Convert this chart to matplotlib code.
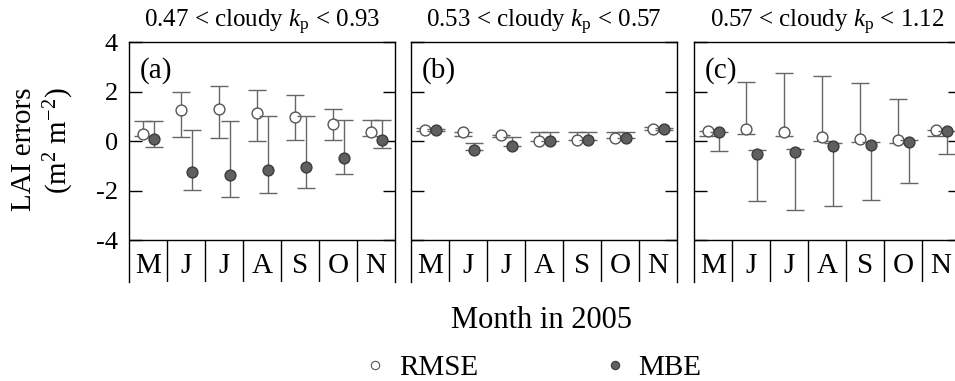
import numpy as np
import matplotlib
matplotlib.use("Agg")
import matplotlib.pyplot as plt
from matplotlib.lines import Line2D

plt.rcParams['font.family'] = ['Liberation Serif', 'DejaVu Serif']
plt.rcParams['mathtext.fontset'] = 'custom'
plt.rcParams['mathtext.rm'] = 'Liberation Serif'
plt.rcParams['mathtext.it'] = 'Liberation Serif:italic'
plt.rcParams['mathtext.bf'] = 'Liberation Serif:bold'

# ---------------- data ----------------
months = ['M', 'J', 'J', 'A', 'S', 'O', 'N']
titles = [r'0.47 < cloudy $k_{\mathrm{p}}$ < 0.93',
          r'0.53 < cloudy $k_{\mathrm{p}}$ < 0.57',
          r'0.57 < cloudy $k_{\mathrm{p}}$ < 1.12']
panel_labels = ['(a)', '(b)', '(c)']

# panel (a)
rmse_a = [0.31, 1.26, 1.32, 1.15, 1.00, 0.70, 0.38]
rmse_a_lo = [0.20, 0.18, 0.12, 0.02, 0.07, 0.06, 0.20]
rmse_a_hi = [0.81, 2.00, 2.22, 2.06, 1.86, 1.31, 0.88]
mbe_a = [0.10, -1.25, -1.34, -1.15, -1.02, -0.66, 0.07]
mbe_a_lo = [-0.23, -1.98, -2.24, -2.07, -1.87, -1.30, -0.27]
mbe_a_hi = [0.81, 0.47, 0.83, 1.04, 1.01, 0.85, 0.88]

# panel (b)
rmse_b = [0.47, 0.38, 0.24, 0.03, 0.06, 0.14, 0.51]
rmse_b_lo = [0.42, 0.20, 0.18, 0.03, 0.06, 0.14, 0.46]
rmse_b_hi = [0.52, 0.38, 0.24, 0.36, 0.38, 0.38, 0.56]
mbe_b = [0.45, -0.34, -0.17, 0.03, 0.06, 0.14, 0.49]
mbe_b_lo = [0.40, -0.34, -0.17, 0.03, 0.06, 0.14, 0.44]
mbe_b_hi = [0.50, -0.07, 0.17, 0.36, 0.38, 0.38, 0.54]

# panel (c)
rmse_c = [0.40, 0.50, 0.38, 0.18, 0.11, 0.07, 0.46]
rmse_c_lo = [0.20, 0.31, 0.20, 0.02, -0.04, -0.05, 0.23]
rmse_c_hi = [0.40, 2.40, 2.75, 2.62, 2.36, 1.69, 0.46]
mbe_c = [0.38, -0.51, -0.43, -0.20, -0.15, -0.01, 0.41]
mbe_c_lo = [-0.40, -2.41, -2.78, -2.63, -2.39, -1.68, -0.50]
mbe_c_hi = [0.38, -0.34, -0.30, -0.05, -0.02, 0.05, 0.41]

panels = [
    (rmse_a, rmse_a_lo, rmse_a_hi, mbe_a, mbe_a_lo, mbe_a_hi),
    (rmse_b, rmse_b_lo, rmse_b_hi, mbe_b, mbe_b_lo, mbe_b_hi),
    (rmse_c, rmse_c_lo, rmse_c_hi, mbe_c, mbe_c_lo, mbe_c_hi),
]

# ---------------- figure ----------------
W, H = 955, 381
fig = plt.figure(figsize=(W / 100, H / 100), dpi=100)

lefts_px = [129, 411, 694]
width_px = 266
top_px, bottom_px = 42.3, 281.7
ymin, ymax = -5.67, 4

bar_color = '#666666'
fill_mbe = '#5f5f5f'
edge_mbe = '#3c3c3c'
edge_rmse = '#555555'

x = np.arange(len(months))
for k, (lp, data) in enumerate(zip(lefts_px, panels)):
    ax = fig.add_axes([lp / W, 1 - bottom_px / H, width_px / W, (bottom_px - top_px) / H])
    r, rlo, rhi, m, mlo, mhi = [np.array(d) for d in data]
    ax.errorbar(x - 0.12, r, yerr=[r - rlo, rhi - r], fmt='o', ms=7.8,
                mfc='white', mec=edge_rmse, mew=1.0, ecolor=bar_color,
                elinewidth=1.0, capsize=6.5, capthick=1.0, zorder=3)
    ax.errorbar(x + 0.15, m, yerr=[m - mlo, mhi - m], fmt='o', ms=7.8,
                mfc=fill_mbe, mec=edge_mbe, mew=1.0, ecolor=bar_color,
                elinewidth=1.0, capsize=6.5, capthick=1.0, zorder=4)

    ax.set_xlim(-0.5, len(months) - 0.5)
    ax.set_ylim(ymin, ymax)
    ax.spines['bottom'].set_visible(False)
    for s in ['left', 'right', 'top']:
        ax.spines[s].set_linewidth(1.0)
    ax.axhline(-4, color='black', lw=1.0)
    ax.vlines(np.arange(0.5, len(months) - 0.5, 1), ymin, -4, color='black', lw=1.0)
    for i, mo in enumerate(months):
        ax.text(i, -5.32, mo, ha='center', va='baseline', fontsize=21)

    ax.set_xticks([])
    ax.set_yticks([-4, -2, 0, 2, 4])
    ax.set_yticklabels(['-4', '-2', '0', '2', '4'])
    ax.tick_params(axis='y', direction='in', length=9, width=1.0,
                   left=True, right=True, labelsize=19, pad=8,
                   labelleft=(k == 0))
    ax.set_title(titles[k], fontsize=18, pad=11)
    ax.text(0.041, 0.884, panel_labels[k], transform=ax.transAxes,
            ha='left', va='center', fontsize=21)

# y label (two lines)
fig.text(24 / W, 1 - 149 / H, 'LAI errors', rotation=90, ha='center', va='center', fontsize=21)
fig.text(59 / W, 1 - 141 / H, r'(m$^{2}$ m$^{-2}$)', rotation=90, ha='center', va='center', fontsize=21)

# x label
fig.text(541 / W, 1 - 320 / H, 'Month in 2005', ha='center', va='center', fontsize=22)

# legend
handles = [Line2D([], [], marker='o', ls='none', mfc='white', mec=edge_rmse, mew=0.8, ms=6),
           Line2D([], [], marker='o', ls='none', mfc=fill_mbe, mec=edge_mbe, mew=0.8, ms=6)]
fig.legend(handles, ['RMSE', 'MBE'], ncol=2, frameon=False, loc='center',
           bbox_to_anchor=(534 / W, 1 - 368 / H), handlelength=0.6,
           handletextpad=0.5, columnspacing=4.4, fontsize=21)

fig.savefig('out.png', dpi=100)
